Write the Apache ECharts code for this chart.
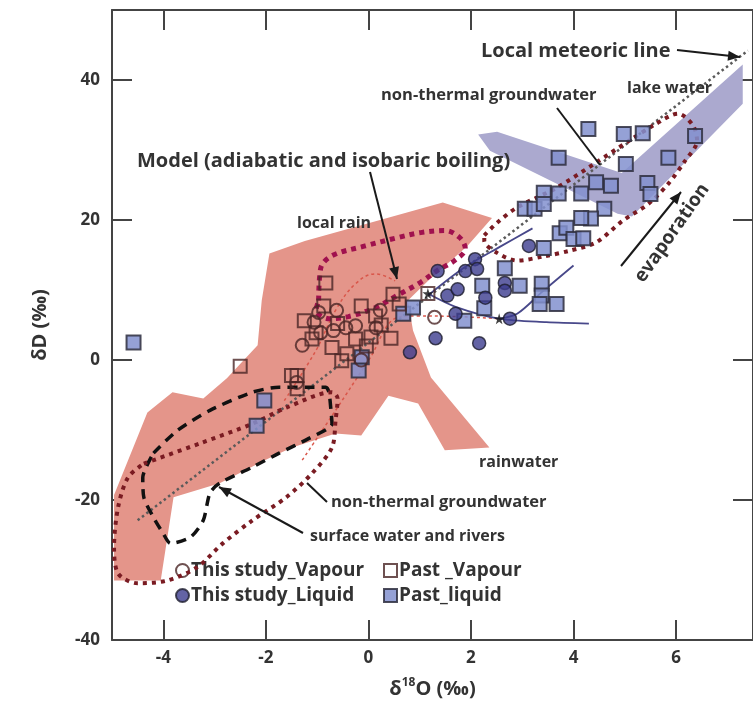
<!DOCTYPE html>
<html>
<head>
<meta charset="utf-8">
<script src="https://cdn.jsdelivr.net/npm/echarts@6/dist/echarts.min.js"></script>
<style>
html, body { margin: 0; padding: 0; background: #fff; overflow: hidden; }
#chart { width: 753px; height: 707px; }
</style>
</head>
<body>
<div id="chart"></div>
<script>
// axis ticks
const xTicks = [-4, -2, 0, 2, 4, 6];
const yTicks = [-40, -20, 0, 20, 40];

// samples  [d18O, dD]
const thisVapour = [[-1.29, 2.1], [-1.06, 5.4], [-0.93, 3.9], [-0.68, 4.2], [-0.62, 7.1], [-0.97, 6.8],
  [-0.44, 4.6], [-0.25, 4.9], [0.23, 7.1], [0.15, 4.6], [-0.14, 0.0], [1.29, 6.1], [-1.4, -3.2]];
const pastVapour = [[-0.83, 11.0], [-0.87, 7.7], [-1.25, 5.6], [-1.02, 3.9], [-0.71, 1.8], [-0.52, -0.1],
  [-0.14, 7.7], [-0.25, 3.0], [0.14, 6.3], [0.25, 5.0], [0.48, 9.4], [0.6, 8.0], [-1.5, -2.2], [-0.04, 2.0],
  [-0.42, 0.9], [0.44, 3.1], [-2.5, -0.9], [-1.39, -2.2], [-1.39, -4.1], [1.16, 9.5], [-1.1, 3.0],
  [-0.6, 5.2], [0.05, 3.3]];
const thisLiquid = [[1.35, 12.7], [1.89, 12.7], [2.08, 14.4], [2.12, 13.0], [1.54, 9.2], [1.74, 10.1],
  [1.7, 6.6], [2.28, 8.9], [2.66, 11.0], [2.66, 9.9], [2.76, 5.9], [1.31, 3.1], [2.16, 2.4], [0.81, 1.1],
  [3.13, 16.3]];
const pastLiquid = [[-4.58, 2.5], [-2.03, -5.8], [-2.18, -9.4], [-0.13, 0.4], [-0.19, -1.5], [0.68, 6.6],
  [0.87, 7.5], [1.87, 5.6], [2.22, 10.6], [2.26, 7.4], [2.66, 13.1], [2.95, 10.6], [3.05, 21.6], [3.24, 21.6],
  [3.42, 23.9], [3.42, 22.3], [3.71, 23.8], [3.71, 28.9], [4.15, 23.8], [4.44, 25.4], [4.73, 24.9],
  [4.6, 21.6], [4.34, 20.2], [4.15, 20.3], [3.73, 18.1], [3.86, 18.9], [4.0, 17.3], [4.19, 17.4],
  [3.42, 16.0], [3.38, 10.9], [3.38, 9.2], [3.67, 8.0], [3.34, 8.0], [4.29, 33.0], [4.98, 32.3],
  [5.35, 32.4], [5.02, 28.0], [5.85, 28.9], [6.37, 32.0], [5.44, 25.3], [5.5, 23.7]];
const boilingStarts = [[1.16, 9.5], [2.55, 5.9]];

// fields and lines
const rainwaterArea = [[-4.96, -31.5], [-4.96, -19.3], [-4.31, -7.5], [-3.82, -4.6], [-3.22, -5.5],
  [-2.76, -2.6], [-2.16, 2.1], [-2.08, 8.5], [-1.93, 15.2], [-1.24, 17.0], [1.45, 22.5], [2.41, 20.3],
  [1.93, 16.3], [1.16, 11.3], [0.77, 8.5], [0.87, 4.2], [1.22, -2.5], [2.36, -12.5], [1.49, -12.9],
  [0.97, -6.2], [0.39, -5.1], [-0.14, -10.8], [-0.64, -10.5], [-1.49, -12.5], [-1.99, -14.2],
  [-2.9, -17.6], [-3.8, -19.6], [-4.05, -31.5]];
const lakeArea = [[2.14, 32.2], [2.51, 32.6], [4.94, 26.7], [7.3, 42.2], [7.3, 36.6], [5.14, 20.5],
  [4.86, 20.9], [2.37, 29.9]];
const meteoricLine = [[-4.5, -22.9], [7.4, 44.2]];
const surfaceWater = [[-4.19, -13.3], [-3.73, -10.1], [-3.09, -7.2], [-2.26, -4.6], [-1.74, -3.9],
  [-1.16, -3.9], [-0.83, -3.9], [-0.77, -4.6], [-0.73, -7.2], [-0.71, -9.1], [-1.16, -11.2], [-1.74, -13.3],
  [-2.26, -15.3], [-2.9, -17.6], [-3.09, -19.0], [-3.22, -22.9], [-3.47, -25.3], [-3.86, -26.2],
  [-4.0, -24.8], [-4.19, -22.5], [-4.38, -19.6], [-4.4, -16.8], [-4.19, -13.3]];
const groundwaterLow = [[-4.38, -14.8], [-3.28, -11.9], [-2.26, -9.1], [-1.6, -6.8], [-0.71, -4.6],
  [-0.6, -5.5], [-0.64, -8.6], [-0.71, -12.5], [-1.1, -16.2], [-1.6, -19.6], [-2.26, -22.9], [-2.84, -26.2],
  [-3.34, -29.6], [-3.92, -31.5], [-4.5, -31.9], [-4.88, -30.5], [-4.96, -26.7], [-4.88, -21.0],
  [-4.69, -16.8], [-4.38, -14.8]];
const groundwaterHigh = [[2.26, 17.8], [2.51, 19.6], [2.9, 21.8], [3.67, 24.6], [4.44, 28.2], [5.08, 31.3],
  [5.6, 33.7], [6.04, 35.2], [6.33, 33.5], [6.41, 31.3], [6.18, 28.5], [5.85, 25.2], [5.46, 22.3],
  [4.96, 19.9], [4.44, 16.8], [3.92, 15.6], [3.42, 14.8], [2.9, 14.2], [2.51, 15.3], [2.26, 17.0], [2.26, 17.8]];
const localRain = [[-0.97, 8.5], [-0.93, 13.1], [-0.71, 14.9], [-0.06, 16.3], [0.58, 17.5], [1.02, 18.2],
  [1.49, 18.5], [1.78, 17.5], [1.89, 15.9], [1.68, 14.2], [1.35, 12.8], [1.02, 11.1], [0.58, 9.3],
  [0.14, 7.5], [-0.39, 6.2], [-0.77, 5.9], [-1.02, 7.1], [-0.97, 8.5]];
const modelA = [[-1.64, -5.8], [-1.02, 1.4], [-0.64, 7.1], [-0.25, 10.9], [0.14, 12.3], [0.52, 11.3]];
const modelB = [[-1.29, -14.3], [-0.64, -7.2], [0.0, -0.1], [0.58, 6.1], [0.97, 6.3], [1.74, 6.2], [2.55, 5.9]];
const mixA = [[1.16, 9.5], [1.7, 7.6], [2.55, 5.9], [3.47, 5.4], [4.3, 5.2]];
const mixB = [[2.55, 5.9], [2.9, 6.6], [3.4, 9.8], [4.0, 13.5]];
const mixC = [[1.16, 9.2], [1.87, 13.2], [2.57, 16.2], [3.2, 18.8]];

const font = '"Open Sans", "DejaVu Sans", sans-serif';
const ink = '#333';

function area(name, pts, fill) {
  return {
    type: 'custom', name: name, silent: true, z: 1, clip: true,
    data: pts,
    renderItem: function (params, api) {
      if (params.dataIndex !== 0) return null;
      return {
        type: 'polygon',
        shape: { points: pts.map(function (p) { return api.coord(p); }) },
        style: { fill: fill }
      };
    }
  };
}

function path(name, pts, color, width, dash, smooth, z) {
  return {
    type: 'line', name: name, data: pts, symbol: 'none', silent: true, z: z || 3,
    smooth: smooth, clip: true,
    lineStyle: { color: color, width: width, type: dash, cap: 'butt' }
  };
}

function arrow(x1, y1, x2, y2, head) {
  const els = [{ type: 'line', z: 100, shape: { x1: x1, y1: y1, x2: x2, y2: y2 },
    style: { stroke: '#1a1a1a', lineWidth: 2 } }];
  if (head) {
    const a = Math.atan2(y2 - y1, x2 - x1), L = 12, W = 5;
    els.push({ type: 'polygon', z: 100, shape: { points: [[x2, y2],
      [x2 - L * Math.cos(a) + W * Math.sin(a), y2 - L * Math.sin(a) - W * Math.cos(a)],
      [x2 - L * Math.cos(a) - W * Math.sin(a), y2 - L * Math.sin(a) + W * Math.cos(a)]] },
      style: { fill: '#1a1a1a' } });
  }
  return els;
}

function label(text, x, y, size, rot) {
  return { type: 'text', z: 100, x: x, y: y, rotation: rot || 0,
    style: { text: text, font: 'bold ' + size + 'px ' + font, fill: ink,
      align: rot ? 'center' : 'left', verticalAlign: 'middle' } };
}

const axisLine = { show: true, onZero: false, lineStyle: { color: '#444', width: 2 } };
const tickStyle = { color: '#444', width: 2 };
const tickFont = { fontSize: 17, fontWeight: 'bold', color: ink, fontFamily: font };
const legendText = { fontSize: 19, fontWeight: 'bold', color: ink, fontFamily: font, padding: [0, 0, 0, -3] };

const chart = echarts.init(document.getElementById('chart'));
chart.setOption({
  animation: false,
  backgroundColor: '#fff',
  grid: { left: 112, right: -6, top: 10, bottom: 67 },
  xAxis: [{
    type: 'value', min: -5, max: 7.5, position: 'bottom',
    axisLine: axisLine,
    axisTick: { inside: true, length: 20, customValues: xTicks, lineStyle: tickStyle },
    axisLabel: Object.assign({ customValues: xTicks, margin: 10 }, tickFont),
    splitLine: { show: false },
    name: '{a|δ}{s|18}{a|O (‰)}', nameLocation: 'middle', nameGap: 37,
    nameTextStyle: { rich: {
      a: { fontSize: 20, fontWeight: 'bold', color: ink, fontFamily: font, lineHeight: 24 },
      s: { fontSize: 12, fontWeight: 'bold', color: ink, fontFamily: font, verticalAlign: 'top', lineHeight: 24 }
    } }
  }, {
    type: 'value', min: -5, max: 7.5, position: 'top',
    axisLine: axisLine,
    axisTick: { inside: true, length: 20, customValues: xTicks, lineStyle: tickStyle },
    axisLabel: { show: false }, splitLine: { show: false }
  }],
  yAxis: [{
    type: 'value', min: -40, max: 50, position: 'left',
    axisLine: axisLine,
    axisTick: { inside: true, length: 20, customValues: yTicks, lineStyle: tickStyle },
    axisLabel: Object.assign({ customValues: yTicks, margin: 12 }, tickFont),
    splitLine: { show: false },
    name: 'δD (‰)', nameLocation: 'middle', nameGap: 62, nameRotate: 90,
    nameTextStyle: { fontSize: 20, fontWeight: 'bold', color: ink, fontFamily: font }
  }, {
    type: 'value', min: -40, max: 50, position: 'right',
    axisLine: axisLine,
    axisTick: { inside: true, length: 20, customValues: yTicks, lineStyle: tickStyle },
    axisLabel: { show: false }, splitLine: { show: false }
  }],
  legend: [{
    data: ['This study_Vapour', 'This study_Liquid'], orient: 'vertical', left: 170, top: 556,
    itemGap: 6, itemWidth: 13, itemHeight: 13, selectedMode: false, textStyle: legendText
  }, {
    data: ['Past _Vapour', 'Past_liquid'], orient: 'vertical', left: 378, top: 556,
    itemGap: 6, itemWidth: 13, itemHeight: 13, selectedMode: false, textStyle: legendText
  }],
  series: [
    area('rainwater', rainwaterArea, '#e4958a'),
    area('lake water', lakeArea, '#aba9cf'),
    path('local meteoric line', meteoricLine, '#5a5a5a', 2.5, [2.5, 3], false, 3),
    path('surface water and rivers', surfaceWater, '#111', 3.5, [10, 7], 0.25, 4),
    path('non-thermal groundwater low', groundwaterLow, '#7a1b22', 4, [4, 5], 0.3, 4),
    path('non-thermal groundwater high', groundwaterHigh, '#7a1b22', 4, [4, 5], 0.3, 4),
    path('local rain', localRain, '#a0114e', 5, [5, 5], 0.35, 4),
    path('model A', modelA, '#d9564a', 1.5, [3, 3], 0.4, 3),
    path('model B', modelB, '#d9564a', 1.5, [3, 3], 0.4, 3),
    path('mix A', mixA, '#48488a', 1.8, 'solid', 0.3, 3),
    path('mix B', mixB, '#48488a', 1.8, 'solid', 0.3, 3),
    path('mix C', mixC, '#48488a', 1.8, 'solid', 0.3, 3),
    {
      type: 'scatter', name: 'Past_liquid', data: pastLiquid, symbol: 'rect', symbolSize: 14, z: 10,
      itemStyle: { color: '#8290cf', opacity: 0.85, borderColor: '#2e2e3e', borderWidth: 2 }
    },
    {
      type: 'scatter', name: 'This study_Liquid', data: thisLiquid, symbol: 'circle', symbolSize: 13, z: 11,
      itemStyle: { color: '#3c3c8e', borderColor: '#1e1e2e', borderWidth: 1.5 }
    },
    {
      type: 'scatter', name: 'Past _Vapour', data: pastVapour, symbol: 'rect', symbolSize: 13, z: 12,
      itemStyle: { color: 'rgba(255,255,255,0)', borderColor: '#4a2626', borderWidth: 2 }
    },
    {
      type: 'scatter', name: 'This study_Vapour', data: thisVapour, symbol: 'circle', symbolSize: 13, z: 12,
      itemStyle: { color: 'rgba(255,255,255,0)', borderColor: '#4a2626', borderWidth: 2 }
    },
    {
      type: 'scatter', name: 'boiling start', data: boilingStarts, z: 13, silent: true,
      symbol: 'path://M50,0 L61,35 L98,35 L68,57 L79,91 L50,70 L21,91 L32,57 L2,35 L39,35 Z',
      symbolSize: 11, itemStyle: { color: '#111' }
    }
  ],
  graphic: [
    label('Local meteoric line', 481, 51, 20),
    label('lake water', 627, 88, 16),
    label('non-thermal groundwater', 381, 95, 16.5),
    label('Model (adiabatic and isobaric boiling)', 137, 161, 20),
    label('local rain', 297, 223, 16),
    label('rainwater', 479, 462, 16),
    label('non-thermal groundwater', 331, 502, 16.5),
    label('surface water and rivers', 310, 536, 16),
    label('evaporation', 672, 233, 19, 55 * Math.PI / 180)
  ].concat(
    arrow(677, 50, 740, 57, true),
    arrow(370, 172, 397, 279, true),
    arrow(557, 108, 600, 165, false),
    arrow(307, 483, 327, 502, false),
    arrow(303, 533, 219, 487, true),
    arrow(621, 266, 681, 192, true)
  )
});
</script>
</body>
</html>
